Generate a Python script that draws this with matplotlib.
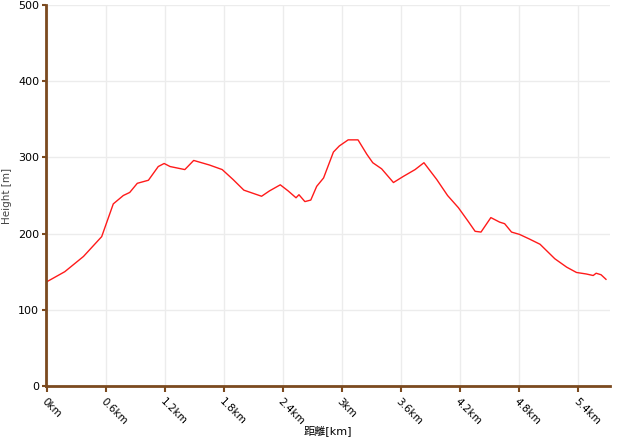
import numpy as np
import matplotlib.pyplot as plt

plt.rcParams['font.family'] = ['DejaVu Sans', 'Noto Sans CJK JP']

# distance (km) and height (m)
dist_km = [0.0, 0.18, 0.37, 0.555, 0.673, 0.775, 0.84, 0.917, 1.03, 1.13, 1.19,
           1.25, 1.40, 1.49, 1.65, 1.78, 1.89, 2.0, 2.18, 2.26, 2.37, 2.45,
           2.53, 2.56, 2.62, 2.68, 2.74, 2.81, 2.91, 2.97, 3.06, 3.16, 3.25,
           3.31, 3.40, 3.52, 3.62, 3.74, 3.83, 3.96, 4.07, 4.18, 4.28, 4.35,
           4.41, 4.51, 4.60, 4.65, 4.72, 4.80, 4.90, 5.01, 5.16, 5.28, 5.38,
           5.48, 5.55, 5.58, 5.63, 5.68]
height_m = [137, 150, 170, 196, 239, 250, 254, 266, 270, 288, 292,
            288, 284, 296, 290, 284, 271, 257, 249, 256, 264, 256,
            247, 251, 242, 244, 262, 273, 307, 315, 323, 323, 304,
            293, 285, 267, 275, 284, 293, 271, 250, 234, 216, 203,
            202, 221, 215, 213, 202, 199, 193, 186, 167, 156, 149,
            147, 145, 148, 146, 140]

xticks = [0, 0.6, 1.2, 1.8, 2.4, 3.0, 3.6, 4.2, 4.8, 5.4]
xtick_labels = ['0km', '0.6km', '1.2km', '1.8km', '2.4km', '3km',
                '3.6km', '4.2km', '4.8km', '5.4km']
yticks = [0, 100, 200, 300, 400, 500]

brown = '#7b4a1f'

fig = plt.figure(figsize=(6.4, 4.4), dpi=100)
ax = fig.add_axes([0.072, 0.1227, 0.881, 0.866])

ax.plot(dist_km, height_m, color='#ff1a1a', lw=1.0)

ax.set_xlim(-0.01, 5.72)
ax.set_ylim(0, 500)
ax.set_xticks(xticks)
ax.set_xticklabels(xtick_labels, rotation=-45, ha='left', va='top',
                   rotation_mode='anchor', fontsize=7.5)
ax.set_yticks(yticks)
ax.tick_params(axis='y', labelsize=8, colors=brown, labelcolor='black',
               length=3, width=1.5, pad=2)
ax.tick_params(axis='x', colors=brown, labelcolor='black', length=4, width=1.5)

ax.grid(True, color='#ececec', lw=1)
ax.set_axisbelow(True)

for side in ['top', 'right']:
    ax.spines[side].set_visible(False)
for side in ['left', 'bottom']:
    ax.spines[side].set_color(brown)
    ax.spines[side].set_linewidth(2)

ax.set_ylabel('Height [m]', fontsize=7.5, color='#444444', labelpad=4)
ax.set_xlabel('距離[km]', fontsize=8, labelpad=-1)

fig.savefig('out.png', dpi=100)
